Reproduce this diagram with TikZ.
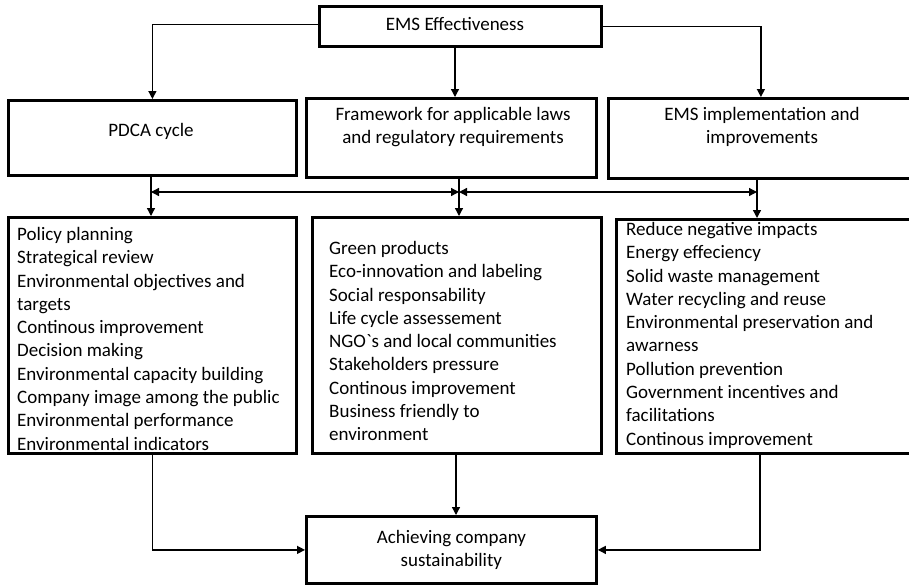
\documentclass[tikz,border=0pt]{standalone}
\usepackage{fontspec}
\setmainfont{Carlito}
\newfontfamily\plaincarlito{Carlito}
\usetikzlibrary{arrows.meta}
\begin{document}
\begin{tikzpicture}[x=1pt,y=-1pt,
  box/.style={draw, line width=2.8pt, rectangle, inner sep=0pt, anchor=north west},
  conn/.style={line width=1.3pt, -{Triangle[length=8pt,width=8pt]}},
  dconn/.style={line width=1.3pt, {Triangle[length=8pt,width=8pt]}-{Triangle[length=8pt,width=8pt]}},
  txt/.style={font=\fontsize{19}{23.3}\selectfont, inner sep=0pt, align=center},
  lst/.style={font=\fontsize{19}{23.3}\selectfont, inner sep=0pt, align=left, anchor=north west}]
\useasboundingbox (0,0) rectangle (909,584);

% boxes
\node[box, minimum width=282pt, minimum height=40pt] (ems) at (318,5) {};
\node[box, minimum width=288pt, minimum height=75pt] (pdca) at (7,99) {};
\node[box, minimum width=290pt, minimum height=79pt] (frame) at (305,97) {};
\node[box, minimum width=305pt, minimum height=80pt] (impl) at (607,97) {};
\node[box, minimum width=288pt, minimum height=236pt] (list1) at (7,216) {};
\node[box, minimum width=289pt, minimum height=236pt] (list2) at (311,216) {};
\node[box, minimum width=300pt, minimum height=234pt] (list3) at (615,218) {};
\node[box, minimum width=290pt, minimum height=67pt, txt] (final) at (305,515) {Achieving company\\sustainability};

% texts
\node[txt] (emsT) at (455,24) {EMS Effectiveness};
\node[txt] (pdcaT) at (151,131) {PDCA cycle};
\node[txt] (frameT) at (453,127) {Framework for applicable laws\\and regulatory requirements};
\node[txt] (implT) at (762,127) {EMS implementation and\\improvements};

\node[lst] (l1T) at (17,227) {Policy planning\\Strategical review\\Environmental objectives and\\targets\\Continous improvement\\Decision making\\Environmental capacity building\\Company image among the public\\Environmental performance\\Environmental indicators};
\node[lst] (l2T) at (329,241) {Green products\\Eco-innovation and labeling\\Social responsability\\Life cycle assessement\\NGO{\plaincarlito`}s and local communities\\Stakeholders pressure\\Continous improvement\\Business friendly to\\environment};
\node[lst] (l3T) at (626,222) {Reduce negative impacts\\Energy effeciency\\Solid waste management\\Water recycling and reuse\\Environmental preservation and\\awarness\\Pollution prevention\\Government incentives and\\facilitations\\Continous improvement};

% helper coordinates
\coordinate (m1) at (455,0);
\coordinate (h1) at (151,192);
\coordinate (h2) at (459,192);
\coordinate (h3) at (757,192);
\coordinate (b2) at (456,0);
\coordinate (b3) at (760,0);

% connectors from top
\draw[conn] ([yshift=2pt]ems.west) -| (pdca.north);
\draw[conn] (ems.south -| m1) -- (frame.north -| m1);
\draw[conn] (ems.east) -| (impl.north);

% second level
\draw[conn] (pdca.south -| h1) -- (list1.north -| h1);
\draw[conn] (frame.south -| h2) -- (list2.north -| h2);
\draw[conn] (impl.south -| h3) -- (list3.north -| h3);
\draw[dconn] (h1) -- (h2);
\draw[dconn] (h2) -- (h3);

% to final
\draw[conn] (list1.south) |- (final.west);
\draw[conn] (list2.south -| b2) -- (final.north -| b2);
\draw[conn] (list3.south -| b3) |- (final.east);
\end{tikzpicture}
\end{document}
